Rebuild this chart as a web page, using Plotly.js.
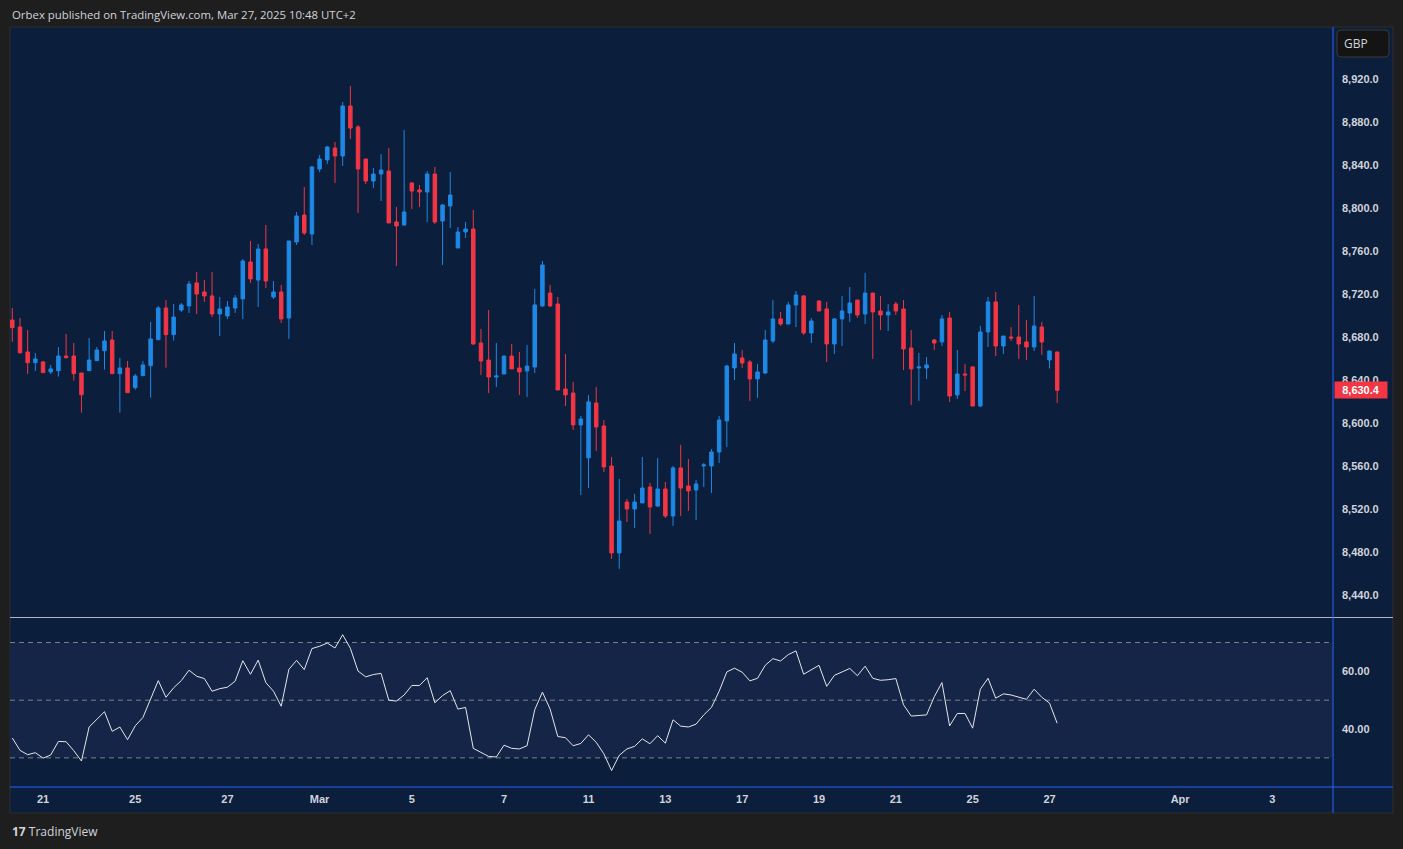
<!DOCTYPE html>
<html>
<head>
<meta charset="utf-8">
<script src="https://cdn.plot.ly/plotly-3.0.1.min.js"></script>
<style>html,body{margin:0;padding:0;background:#1e1e1e;}#chart{width:1403px;height:849px;}</style>
</head>
<body>
<div id="chart"></div>
<script>
// ---- Data (UK100 CFD, 4H candles, Feb 20 – Mar 27 2025) ----
const openP = [
8695.8, 8689.3, 8666.1, 8656.1, 8656.8, 8647.5, 8648.7, 8662.3, 8662.3, 8646.5,
8648.7, 8658.0, 8667.3, 8677.2, 8645.9, 8651.2, 8632.9, 8644.0, 8653.3, 8677.5,
8707.0, 8682.2, 8705.1, 8708.9, 8730.3, 8721.9, 8718.2, 8701.4, 8699.6, 8707.0,
8715.4, 8749.8, 8733.0, 8761.9, 8717.2, 8721.9, 8697.7, 8768.4, 8793.5, 8775.8,
8836.3, 8844.7, 8855.8, 8848.4, 8894.9, 8875.4, 8845.6, 8825.1, 8831.6, 8834.4,
8787.0, 8784.2, 8823.3, 8816.8, 8814.9, 8831.6, 8787.9, 8801.9, 8762.8, 8777.7,
8780.5, 8674.4, 8658.6, 8642.8, 8645.6, 8662.3, 8651.2, 8648.4, 8652.1, 8708.9,
8720.9, 8710.7, 8631.6, 8627.9, 8598.2, 8567.5, 8618.6, 8597.2, 8560.0, 8479.1,
8526.5, 8520.0, 8525.6, 8540.5, 8522.8, 8538.6, 8513.5, 8558.2, 8541.4, 8537.7,
8560.0, 8560.0, 8573.0, 8601.9, 8651.2, 8660.5, 8656.8, 8641.0, 8646.5, 8676.3,
8696.8, 8692.1, 8709.8, 8718.2, 8683.7, 8713.5, 8706.1, 8673.5, 8696.8, 8702.3,
8714.4, 8701.4, 8720.9, 8704.2, 8700.5, 8710.7, 8706.1, 8669.8, 8651.2, 8651.2,
8677.2, 8675.4, 8697.7, 8626.1, 8645.6, 8652.1, 8615.8, 8684.7, 8712.6, 8671.6,
8680.0, 8680.0, 8675.4, 8670.7, 8689.3, 8658.6, 8666.1];
const highP = [
8707.0, 8697.7, 8686.5, 8665.1, 8657.5, 8654.0, 8670.7, 8682.8, 8674.4, 8646.5,
8679.1, 8670.7, 8685.6, 8685.6, 8660.5, 8657.7, 8645.6, 8657.7, 8694.0, 8708.8,
8714.4, 8710.7, 8711.6, 8732.1, 8740.5, 8733.0, 8740.5, 8717.2, 8713.5, 8719.1,
8752.6, 8769.3, 8766.5, 8784.2, 8732.1, 8728.4, 8769.3, 8796.3, 8819.5, 8839.1,
8849.3, 8857.7, 8861.4, 8898.6, 8913.5, 8877.2, 8845.6, 8837.2, 8850.2, 8855.8,
8800.9, 8872.6, 8824.2, 8821.4, 8834.4, 8838.2, 8803.7, 8833.5, 8782.3, 8787.0,
8798.2, 8687.5, 8705.1, 8674.4, 8662.3, 8673.5, 8666.1, 8672.6, 8724.7, 8750.7,
8728.4, 8717.2, 8664.2, 8638.2, 8606.5, 8626.1, 8633.5, 8602.8, 8568.4, 8547.9,
8529.3, 8534.0, 8568.4, 8544.2, 8567.5, 8545.1, 8560.0, 8579.6, 8566.5, 8547.0,
8562.8, 8575.8, 8606.5, 8654.0, 8674.4, 8667.9, 8658.6, 8654.9, 8686.5, 8714.4,
8703.3, 8712.6, 8722.8, 8719.1, 8697.7, 8714.4, 8712.6, 8697.7, 8718.2, 8726.5,
8714.4, 8739.5, 8720.9, 8718.2, 8710.7, 8712.6, 8714.4, 8686.5, 8665.1, 8661.4,
8678.2, 8700.5, 8703.3, 8667.9, 8654.9, 8653.0, 8690.2, 8717.2, 8721.9, 8680.9,
8689.3, 8709.8, 8695.8, 8718.2, 8694.0, 8667.0, 8666.1];
const lowP = [
8675.4, 8664.5, 8645.6, 8648.4, 8646.8, 8645.6, 8643.1, 8660.0, 8639.4, 8609.6,
8648.7, 8658.0, 8649.6, 8645.9, 8609.6, 8628.2, 8631.0, 8644.0, 8623.6, 8677.5,
8651.5, 8676.6, 8703.3, 8702.3, 8701.4, 8712.6, 8698.6, 8680.9, 8696.8, 8702.3,
8696.8, 8730.3, 8707.9, 8725.6, 8715.4, 8693.0, 8678.2, 8765.6, 8774.9, 8765.6,
8833.5, 8841.0, 8823.3, 8839.1, 8864.2, 8795.4, 8822.3, 8818.6, 8806.5, 8786.1,
8746.1, 8783.3, 8799.1, 8800.9, 8787.0, 8785.1, 8747.0, 8781.4, 8762.8, 8772.1,
8672.6, 8644.7, 8627.9, 8633.5, 8645.6, 8650.3, 8626.1, 8624.2, 8646.5, 8707.9,
8707.9, 8630.7, 8615.8, 8593.5, 8533.0, 8539.5, 8574.0, 8554.4, 8473.5, 8464.2,
8507.9, 8502.3, 8525.6, 8496.8, 8521.9, 8511.6, 8504.2, 8513.5, 8518.2, 8509.8,
8540.5, 8534.9, 8562.8, 8577.7, 8640.0, 8651.2, 8620.5, 8623.3, 8645.6, 8674.4,
8690.2, 8692.1, 8689.3, 8681.9, 8674.4, 8704.2, 8656.8, 8664.2, 8671.6, 8694.0,
8697.7, 8692.1, 8659.6, 8686.5, 8685.6, 8700.5, 8649.3, 8616.8, 8620.5, 8640.9,
8667.9, 8671.6, 8619.5, 8622.3, 8629.8, 8615.8, 8614.9, 8670.7, 8662.3, 8664.2,
8676.3, 8659.6, 8658.6, 8667.0, 8663.3, 8650.7, 8618.6];
const closeP = [
8688.7, 8665.4, 8656.1, 8659.6, 8646.8, 8650.3, 8662.3, 8660.8, 8645.9, 8626.3,
8658.6, 8667.9, 8676.3, 8645.9, 8651.2, 8628.2, 8643.7, 8654.0, 8678.2, 8707.0,
8682.2, 8698.6, 8709.8, 8729.3, 8720.0, 8718.2, 8701.4, 8706.1, 8707.9, 8716.3,
8750.7, 8734.0, 8761.9, 8732.1, 8721.9, 8696.8, 8769.3, 8792.6, 8776.8, 8838.2,
8845.6, 8856.8, 8848.4, 8894.9, 8874.4, 8836.3, 8825.1, 8831.6, 8835.4, 8786.1,
8783.3, 8796.3, 8815.8, 8814.9, 8831.6, 8787.0, 8802.8, 8812.1, 8777.7, 8780.5,
8673.5, 8657.7, 8642.8, 8643.7, 8662.3, 8650.3, 8647.5, 8653.0, 8709.8, 8747.0,
8708.9, 8630.7, 8626.1, 8598.2, 8603.7, 8619.6, 8596.3, 8559.1, 8479.1, 8508.8,
8520.0, 8526.5, 8539.5, 8521.9, 8538.6, 8513.5, 8558.2, 8539.5, 8536.8, 8543.3,
8561.0, 8573.0, 8602.8, 8653.0, 8664.2, 8655.8, 8641.0, 8647.5, 8677.2, 8696.8,
8692.1, 8709.8, 8719.1, 8683.7, 8694.9, 8704.2, 8673.5, 8696.8, 8704.2, 8711.6,
8700.5, 8720.9, 8703.3, 8700.5, 8703.3, 8704.2, 8668.9, 8650.3, 8652.1, 8654.0,
8674.4, 8696.8, 8625.1, 8645.6, 8644.7, 8615.8, 8684.7, 8712.6, 8671.6, 8680.9,
8679.1, 8673.5, 8670.7, 8690.2, 8675.4, 8667.0, 8630.4];
const rsiVals = [
36.9, 32.6, 31.1, 31.8, 29.9, 31.0, 35.7, 35.6, 32.5, 28.9,
40.7, 43.2, 46.0, 39.2, 40.7, 36.3, 41.1, 44.0, 50.6, 56.8,
51.0, 54.3, 56.8, 60.4, 58.3, 57.5, 53.1, 54.0, 54.5, 56.6,
63.7, 59.0, 63.9, 56.1, 53.1, 47.9, 60.7, 63.8, 60.6, 67.9,
68.7, 69.8, 68.1, 72.7, 68.0, 60.1, 58.1, 58.9, 59.3, 50.0,
49.7, 51.8, 55.1, 55.1, 57.8, 49.1, 51.6, 53.3, 46.9, 47.5,
33.3, 31.9, 30.5, 30.3, 34.4, 33.3, 33.1, 34.2, 46.7, 52.8,
46.9, 37.4, 37.0, 34.2, 35.0, 38.0, 35.4, 31.4, 25.6, 30.9,
33.1, 34.0, 36.6, 34.9, 37.7, 35.1, 43.2, 41.0, 40.7, 41.7,
44.9, 47.5, 53.1, 59.8, 61.1, 59.7, 56.7, 57.6, 62.1, 64.4,
63.6, 65.8, 67.1, 59.0, 60.5, 62.1, 54.8, 58.6, 59.8, 61.0,
58.5, 61.8, 57.6, 56.9, 57.1, 57.5, 48.4, 44.5, 44.7, 44.9,
51.2, 56.1, 41.1, 45.4, 45.4, 40.3, 53.8, 57.6, 50.7, 52.2,
51.8, 51.0, 50.3, 53.8, 51.0, 49.0, 42.0];
// bar index at which each labelled day starts (gapless time scale)
const tickIdx  = [4, 16, 28, 40, 52, 64, 75, 85, 95, 105, 115, 125, 135, 152, 164];
const tickText = ['21', '25', '27', 'Mar', '5', '7', '11', '13', '17', '19', '21', '25', '27', 'Apr', '3'];
const priceTicks = [8440, 8480, 8520, 8560, 8600, 8640, 8680, 8720, 8760, 8800, 8840, 8880, 8920];
const rsiTicks = [40, 60];
const rsiLevels = [70, 50, 30];
const lastPrice = closeP[closeP.length - 1];

const xIdx = closeP.map((_, i) => i);

const BG = '#0b1e3b';
const BLUE = '#1e88e5';
const RED = '#f23645';
const TXT = '#d1d4dc';
const FONT = 'Liberation Sans, Arial, sans-serif';

const traces = [
  {
    type: 'candlestick', x: xIdx, open: openP, high: highP, low: lowP, close: closeP,
    xaxis: 'x', yaxis: 'y',
    increasing: {line: {color: BLUE, width: 1}, fillcolor: BLUE},
    decreasing: {line: {color: RED, width: 1}, fillcolor: RED},
    whiskerwidth: 0, hoverinfo: 'skip', showlegend: false
  },
  {
    type: 'scatter', mode: 'lines', x: xIdx, y: rsiVals, xaxis: 'x', yaxis: 'y2',
    line: {color: '#e6e6e6', width: 1}, hoverinfo: 'skip', showlegend: false
  }
];

// paper coordinates helpers (plot area: px x 10..1333, y 27..787)
const px = v => (v - 10) / 1323;
const py = v => (787 - v) / 760;

const shapes = [
  {type: 'rect', xref: 'paper', yref: 'paper', x0: px(10), x1: px(1393), y0: py(813), y1: py(27),
   fillcolor: BG, line: {color: '#2e2e2e', width: 1}, layer: 'below'},
  {type: 'rect', xref: 'paper', yref: 'y2', x0: 0, x1: 1, y0: 30, y1: 70,
   fillcolor: '#152548', line: {width: 0}, layer: 'below'},
  ...rsiLevels.map(l => ({type: 'line', xref: 'paper', yref: 'y2', x0: 0, x1: 1, y0: l, y1: l,
   line: {color: '#7d808b', width: 1, dash: '5px,4px'}, layer: 'below'})),
  {type: 'line', xref: 'paper', yref: 'paper', x0: px(10), x1: px(1393), y0: py(617.5), y1: py(617.5),
   line: {color: '#b2b5be', width: 1}},
  {type: 'line', xref: 'paper', yref: 'paper', x0: px(10), x1: px(1393), y0: py(787), y1: py(787),
   line: {color: '#2962ff', width: 1}},
  {type: 'line', xref: 'paper', yref: 'paper', x0: px(1333), x1: px(1333), y0: py(813), y1: py(27),
   line: {color: '#2962ff', width: 1}},
  // GBP currency button (rounded)
  {type: 'path', xref: 'paper', yref: 'paper',
   path: (() => {
     const x0 = px(1337), x1 = px(1389), y0 = py(57), y1 = py(30);
     const rx = 4 / 1323, ry = 4 / 760;
     return `M ${x0 + rx} ${y1} L ${x1 - rx} ${y1} Q ${x1} ${y1} ${x1} ${y1 - ry} L ${x1} ${y0 + ry} Q ${x1} ${y0} ${x1 - rx} ${y0} L ${x0 + rx} ${y0} Q ${x0} ${y0} ${x0} ${y0 + ry} L ${x0} ${y1 - ry} Q ${x0} ${y1} ${x0 + rx} ${y1} Z`;
   })(),
   fillcolor: '#141414', line: {color: '#3a3a3a', width: 1}}
];

const annotations = [
  {xref: 'paper', yref: 'paper', x: px(10), y: py(14), xanchor: 'left', yanchor: 'middle', showarrow: false,
   text: 'Orbex published on TradingView.com, Mar 27, 2025 10:48 UTC+2',
   font: {family: 'Open Sans, sans-serif', size: 11.4, color: TXT}},
  {xref: 'paper', yref: 'paper', x: px(1356), y: py(43.5), xanchor: 'center', yanchor: 'middle', showarrow: false,
   text: 'GBP', font: {family: 'Open Sans, sans-serif', size: 12, color: TXT}},
  {xref: 'paper', yref: 'y', x: px(1334), y: lastPrice, xanchor: 'left', yanchor: 'middle', showarrow: false,
   text: lastPrice.toLocaleString('en-US', {minimumFractionDigits: 1, maximumFractionDigits: 1}),
   font: {family: FONT, size: 11, color: '#ffffff', weight: 'bold'}, bgcolor: RED, width: 50, height: 14, borderpad: 1},
  {xref: 'paper', yref: 'paper', x: px(10), y: py(831), xanchor: 'left', yanchor: 'middle', showarrow: false,
   text: '<b>17</b> TradingView', font: {family: 'Open Sans, sans-serif', size: 12, color: TXT}}
];

const tickFont = {family: FONT, size: 11, color: TXT, weight: 'bold'};

const layout = {
  width: 1403, height: 849,
  margin: {l: 10, r: 70, t: 27, b: 62, pad: 0},
  paper_bgcolor: '#1e1e1e', plot_bgcolor: 'rgba(0,0,0,0)',
  showlegend: false, boxgap: 0.35,
  font: {family: FONT, color: TXT},
  xaxis: {
    anchor: 'y2', range: [-0.3, 171.9], tickmode: 'array', tickvals: tickIdx, ticktext: tickText,
    showgrid: false, zeroline: false, showline: false, ticks: '',
    tickfont: tickFont, ticklabelstandoff: 4,
    rangeslider: {visible: false}, fixedrange: true
  },
  yaxis: {
    domain: [py(617), 1], range: [8419.5, 8968.4], side: 'right', anchor: 'x',
    tickmode: 'array', tickvals: priceTicks, tickformat: ',.1f',
    showgrid: false, zeroline: false, showline: false, ticks: '', ticklabelstandoff: 8,
    tickfont: tickFont, fixedrange: true
  },
  yaxis2: {
    domain: [0, py(618)], range: [19.9, 78.5], side: 'right', anchor: 'x',
    tickmode: 'array', tickvals: rsiTicks, tickformat: '.2f',
    showgrid: false, zeroline: false, showline: false, ticks: '', ticklabelstandoff: 8,
    tickfont: tickFont, fixedrange: true
  },
  shapes: shapes,
  annotations: annotations
};

Plotly.newPlot('chart', traces, layout, {staticPlot: true, displayModeBar: false});
</script>
</body>
</html>
